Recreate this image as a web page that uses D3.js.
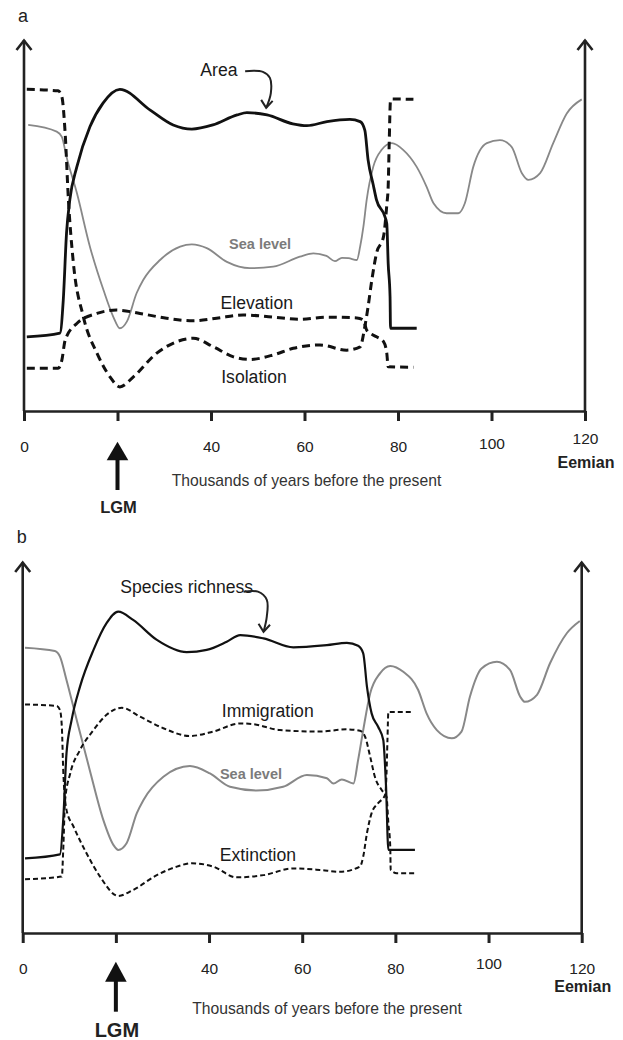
<!DOCTYPE html>
<html><head><meta charset="utf-8">
<script src="https://cdn.jsdelivr.net/npm/d3@7"></script>
<style>
body{margin:0;background:#fff}
text{font-family:"Liberation Sans",Arial,Helvetica,sans-serif;fill:#222}
</style>
</head><body>
<svg id="chart" width="623" height="1040"></svg>
<script>
// ---- shared ticks ----
const xTicks = [0, 20, 40, 60, 80, 100, 120];
const tickLabels = ["0", "", "40", "60", "80", "100", "120"];
const axisTitle = "Thousands of years before the present";

// ---- panel a series: [thousand years BP, relative level 0-100] ----
const areaA = [[0.6,20.0],[7.7,21.0],[8.4,29.9],[9.1,48.0],[9.8,56.9],[11.3,65.8],[14.1,76.6],[16.9,83.0],[20.5,86.7],[27.0,81.1],[31.9,77.1],[35.9,76.0],[40.4,77.1],[45.6,79.8],[47.7,80.4],[52.0,79.8],[57.5,77.4],[60.5,76.9],[64.8,78.0],[69.7,78.6],[71.9,78.0],[72.9,75.7],[73.6,67.7],[74.7,61.0],[75.4,56.9],[77.2,52.4],[77.6,50.5],[77.9,39.8],[78.3,30.8],[78.4,22.3],[84.0,22.3]];
const seaA = [[0.9,77.1],[7.0,75.3],[8.1,73.9],[9.1,68.5],[11.3,58.8],[14.1,44.3],[17.0,32.6],[19.1,25.4],[20.5,22.3],[22.0,24.1],[24.1,31.8],[25.5,35.3],[29.1,40.7],[33.4,44.3],[35.9,44.9],[39.1,43.9],[43.4,40.2],[48.3,38.5],[53.3,38.9],[59.0,41.6],[61.9,42.5],[64.7,41.8],[66.5,40.4],[68.0,41.3],[69.4,41.2],[71.2,40.7],[71.9,44.3],[72.6,49.7],[73.3,56.9],[74.7,65.8],[76.5,70.4],[78.7,72.2],[81.1,70.4],[84.0,65.8],[86.1,60.5],[87.6,56.0],[90.4,53.3],[92.9,53.3],[94.3,56.0],[96.1,65.8],[99.0,72.2],[101.8,73.0],[104.3,71.2],[106.5,64.1],[107.9,62.3],[110.4,64.1],[113.2,72.2],[116.1,80.2],[119.3,84.0]];
const elevationA = [[0.6,11.5],[7.3,11.5],[8.1,13.7],[8.8,19.1],[11.3,23.6],[15.6,26.3],[19.8,27.2],[24.8,26.3],[30.5,25.0],[36.2,24.3],[41.2,25.0],[46.9,25.9],[53.3,25.3],[59.0,24.7],[64.7,25.3],[71.2,25.1],[72.6,24.5],[73.3,21.8],[75.4,20.0],[76.9,18.7],[77.6,15.6],[77.9,11.9],[83.3,11.8]];
const isolationA = [[0.6,86.7],[7.3,86.3],[8.1,84.7],[8.8,74.9],[9.5,56.9],[10.5,40.7],[12.7,25.4],[15.6,15.6],[18.4,9.2],[20.5,6.5],[23.4,9.2],[28.4,15.6],[32.7,18.7],[36.2,19.6],[40.5,17.3],[44.8,14.6],[48.3,13.9],[53.3,15.1],[57.6,16.9],[63.3,17.8],[69.0,16.4],[71.9,17.3],[72.9,22.7],[73.6,28.1],[74.4,35.3],[75.4,42.5],[76.9,47.0],[77.6,55.5],[77.9,60.5],[78.1,71.2],[78.4,83.8],[78.7,84.1],[83.3,84.0]];

// ---- panel b series ----
const richnessB = [[0.5,20.1],[8.0,21.2],[8.7,30.5],[9.4,48.4],[10.5,57.4],[12.3,66.4],[15.2,76.3],[18.0,83.5],[20.5,86.6],[23.7,84.4],[28.8,79.0],[35.2,75.7],[39.5,76.3],[43.8,78.5],[46.7,80.3],[51.7,79.4],[58.1,77.0],[65.3,77.6],[69.6,78.2],[72.0,77.4],[73.1,75.4],[73.9,66.4],[74.9,59.2],[76.3,55.6],[77.4,52.0],[78.0,39.4],[78.5,22.4],[84.2,22.4]];
const seaB = [[0.5,76.9],[6.9,76.0],[8.0,74.5],[9.4,68.2],[11.6,57.4],[14.4,43.9],[17.3,30.5],[19.5,23.7],[20.5,22.4],[22.3,24.2],[24.5,32.3],[25.9,35.8],[30.2,42.1],[35.9,45.0],[40.2,43.0],[44.5,39.4],[50.2,38.4],[55.9,39.4],[61.0,42.6],[65.3,41.7],[66.7,40.3],[68.5,41.4],[71.0,40.3],[72.0,46.6],[73.1,54.7],[74.6,64.6],[76.7,70.0],[78.9,72.0],[81.7,70.4],[84.9,65.5],[86.7,59.2],[88.9,54.7],[92.1,52.5],[94.2,54.3],[96.0,63.7],[98.5,71.3],[101.8,73.1],[104.6,70.9],[106.8,63.7],[107.8,62.3],[110.4,64.2],[113.2,72.7],[116.8,80.8],[119.6,84.1]];
const immigrationB = [[0.5,14.5],[8.4,15.2],[8.7,22.4],[9.1,35.8],[10.2,43.0],[12.3,49.3],[15.2,54.7],[18.0,58.8],[21.3,60.7],[25.2,58.3],[30.2,55.2],[35.9,53.1],[40.9,54.3],[46.7,56.5],[49.5,56.3],[55.2,54.7],[63.8,54.3],[69.6,54.9],[72.4,54.5],[73.5,52.9],[74.6,47.5],[75.6,42.1],[77.1,38.5],[78.1,36.7],[78.5,29.6],[78.9,23.3],[79.0,17.0],[80.3,16.1],[84.6,16.1]];
const extinctionB = [[0.5,61.6],[7.3,61.2],[8.0,60.1],[8.4,55.6],[8.7,43.9],[9.4,33.2],[10.9,28.7],[13.7,21.5],[16.6,15.2],[20.5,10.0],[23.7,11.6],[28.8,15.6],[33.1,17.9],[36.3,18.8],[40.9,17.9],[45.9,15.0],[51.7,15.6],[58.1,17.4],[63.8,17.0],[68.1,16.5],[72.4,17.9],[73.1,20.6],[73.9,26.9],[74.9,32.3],[76.3,35.0],[77.8,37.2],[78.1,43.0],[78.3,52.0],[78.5,59.6],[83.9,59.6]];

// ---- curve labels (text + anchor in data units) ----
const labelsA = [
  {t:"Area", x:41.7, y:90.3, kind:"curve"},
  {t:"Sea level", x:50.5, y:43.7, kind:"sea"},
  {t:"Elevation", x:49.8, y:27.5, kind:"curve"},
  {t:"Isolation", x:49.2, y:7.5, kind:"curve"}
];
const labelsB = [
  {t:"Species richness", x:35.2, y:91.6, kind:"curve"},
  {t:"Immigration", x:52.6, y:58.2, kind:"curve"},
  {t:"Sea level", x:49.0, y:41.5, kind:"sea"},
  {t:"Extinction", x:50.5, y:19.4, kind:"curve"}
];
const pointerA = [[47.3,91.6],[51.1,91.4],[52.6,89.8],[52.8,85.7],[51.8,81.7]];
const pointerB = [[47.4,92.0],[50.5,92.0],[52.4,89.8],[52.4,85.3],[51.7,81.2]];

const svg = d3.select("#chart");
svg.append("rect").attr("width",623).attr("height",1040).attr("fill","#fff");

function panel(cfg){
  const x = d3.scaleLinear().domain([0,120]).range([cfg.x0, cfg.x1]);
  const y = d3.scaleLinear().domain([0,100]).range([cfg.base, cfg.top]);
  const g = svg.append("g");
  const line = d3.line().x(d=>x(d[0])).y(d=>y(d[1])).curve(d3.curveMonotoneX);

  // panel letter
  g.append("text").attr("x", cfg.x0-6).attr("y", cfg.letterY)
    .attr("font-size",18).text(cfg.letter);

  // bottom axis
  const ax = g.append("g").attr("transform",`translate(0,${cfg.base})`)
    .call(d3.axisBottom(x).tickValues(xTicks).tickSize(10).tickSizeOuter(0)
      .tickFormat((d,i)=>tickLabels[i]));
  ax.select(".domain").attr("stroke","#222").attr("stroke-width",2.6);
  ax.selectAll(".tick line").attr("stroke","#222").attr("stroke-width",3);
  ax.selectAll(".tick text").attr("dy",0)
    .attr("y", d => 41 + (cfg.tickShift[d]||0))
    .attr("font-size",15.5).attr("font-family",null).attr("fill","#333");

  // vertical axes with open arrowheads
  [cfg.x0, cfg.x1].forEach(px=>{
    g.append("line").attr("x1",px).attr("x2",px).attr("y1",cfg.base).attr("y2",y(100))
      .attr("stroke","#222").attr("stroke-width",2.6);
    g.append("path").attr("d",`M${px-7.5},${y(100)+10}L${px},${y(100)+0.5}L${px+7.5},${y(100)+10}`)
      .attr("fill","none").attr("stroke","#222").attr("stroke-width",2.6);
  });

  // series
  cfg.series.forEach(s=>{
    g.append("path").datum(s.data).attr("d",line).attr("fill","none")
      .attr("stroke",s.color).attr("stroke-width",s.width)
      .attr("stroke-dasharray",s.dash||null)
      .attr("stroke-linejoin","round");
  });

  // labels
  cfg.labels.forEach(l=>{
    const t = g.append("text").attr("x",x(l.x)).attr("y",y(l.y)).attr("text-anchor","middle").text(l.t);
    if(l.kind==="sea") t.attr("font-size",14.5).attr("font-weight","bold").style("fill","#7b7b7b");
    else t.attr("font-size",17.6).style("fill","#1a1a1a");
  });

  // pointer arrow
  const pl = d3.line().x(d=>x(d[0])).y(d=>y(d[1])).curve(d3.curveCatmullRom);
  g.append("path").datum(cfg.pointer).attr("d",pl).attr("fill","none")
    .attr("stroke","#222").attr("stroke-width",2);
  const tip = cfg.pointer[cfg.pointer.length-1];
  const tx = x(tip[0]), ty = y(tip[1]);
  g.append("path").attr("d",`M${tx-5},${ty-8}L${tx},${ty}L${tx+6.5},${ty-7}`)
    .attr("fill","none").attr("stroke","#222").attr("stroke-width",2);

  // LGM arrow
  const lx = x(20);
  g.append("path").attr("d",`M${lx},${cfg.lgmTip}L${lx+10.8},${cfg.lgmTip+cfg.lgmHead}L${lx-10.8},${cfg.lgmTip+cfg.lgmHead}Z`).attr("fill","#111");
  g.append("rect").attr("x",lx-2).attr("y",cfg.lgmTip+cfg.lgmHead-1).attr("width",4)
    .attr("height",cfg.lgmEnd-cfg.lgmTip-cfg.lgmHead+1).attr("fill","#111");
  g.append("text").attr("x",lx+1).attr("y",cfg.lgmLabelY).attr("text-anchor","middle")
    .attr("font-size",cfg.lgmSize).attr("font-weight","bold").text("LGM");

  // Eemian
  g.append("text").attr("x",x(120)+1).attr("y",cfg.base+cfg.eemianDy).attr("text-anchor","middle")
    .attr("font-size",16).attr("font-weight","bold").text("Eemian");

  // axis title
  g.append("text").attr("x",cfg.titleX).attr("y",cfg.titleY).attr("text-anchor","middle")
    .attr("font-size",15.7).style("fill","#333").text(axisTitle);
}

panel({
  letter:"a", letterY:22, x0:24, x1:585, base:411, top:40,
  tickShift:{100:-3,120:-8}, eemianDy:56.5,
  series:[
    {data:seaA, color:"#888", width:1.8},
    {data:elevationA, color:"#111", width:3, dash:"8,5"},
    {data:isolationA, color:"#111", width:3, dash:"8,5"},
    {data:areaA, color:"#111", width:2.8}
  ],
  labels:labelsA, pointer:pointerA,
  lgmTip:441.7, lgmHead:18.5, lgmEnd:490, lgmLabelY:512.5, lgmSize:16.5,
  titleX:306.5, titleY:486
});

panel({
  letter:"b", letterY:543, x0:22.7, x1:581.7, base:933, top:562,
  tickShift:{100:-5,120:0}, eemianDy:58.5,
  series:[
    {data:seaB, color:"#888", width:2},
    {data:immigrationB, color:"#111", width:2, dash:"5,3"},
    {data:extinctionB, color:"#111", width:2, dash:"5,3"},
    {data:richnessB, color:"#111", width:2.2}
  ],
  labels:labelsB, pointer:pointerB,
  lgmTip:961.7, lgmHead:20, lgmEnd:1011.7, lgmLabelY:1036.5, lgmSize:20,
  titleX:327, titleY:1013.5
});
</script>
</body></html>
